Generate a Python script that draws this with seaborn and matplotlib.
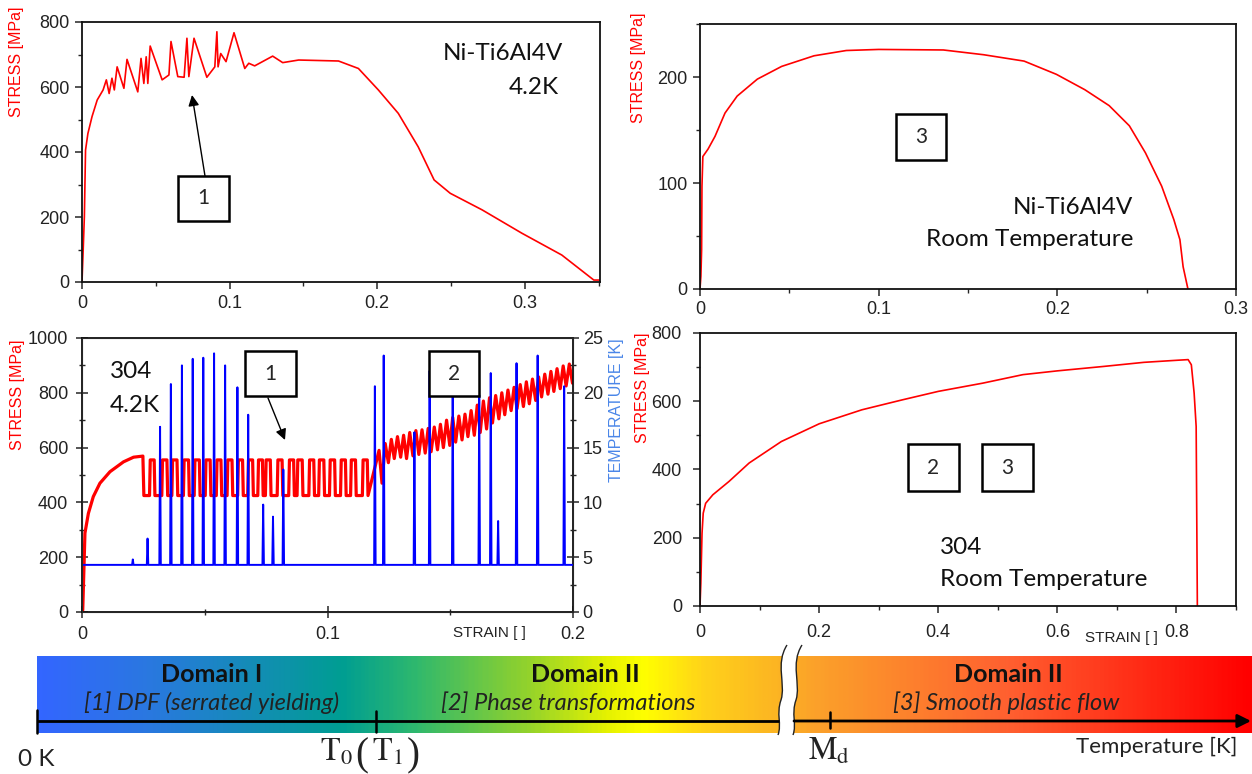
import matplotlib
matplotlib.use("Agg")
import numpy as np
import pandas as pd
import matplotlib.pyplot as plt
import seaborn as sns
from matplotlib.colors import LinearSegmentedColormap
from matplotlib.patches import Rectangle, PathPatch
from matplotlib.path import Path
from matplotlib.ticker import MultipleLocator, FuncFormatter

# ---------------------------------------------------------------- data
# Ni-Ti6Al4V at 4.2 K
ti_cryo_strain = [0, 0.0008, 0.0016, 0.0024, 0.004, 0.0068, 0.0103, 0.0143, 0.0165, 0.0184,
                  0.0203, 0.0219, 0.0238, 0.0284, 0.0305, 0.0378, 0.040, 0.0419, 0.0435,
                  0.0446, 0.0462, 0.0543, 0.0589, 0.0603, 0.0649, 0.0692, 0.0711, 0.0724,
                  0.0759, 0.0846, 0.090, 0.0914, 0.0922, 0.094, 0.0976, 0.103, 0.1103,
                  0.113, 0.117, 0.1292, 0.136, 0.1468, 0.1738, 0.1873, 0.2008, 0.2143,
                  0.2278, 0.2386, 0.2495, 0.2711, 0.2981, 0.3251, 0.3468, 0.3508]
ti_cryo_stress = [0, 98, 201, 406, 457, 509, 560, 591, 622, 580,
                  627, 591, 662, 596, 685, 585, 688, 611, 693,
                  611, 726, 622, 637, 740, 632, 630, 750, 632,
                  750, 630, 662, 770, 662, 703, 678, 767, 657,
                  673, 665, 695, 675, 683, 680, 657, 591, 519,
                  416, 314, 273, 222, 150, 83, 6, 6]

# Ni-Ti6Al4V at room temperature
ti_rt_strain = [0, 0.0005, 0.0009, 0.0011, 0.0016, 0.0045, 0.0084, 0.014, 0.0208, 0.0321,
                0.0457, 0.0638, 0.0819, 0.100, 0.1362, 0.1588, 0.1814, 0.1995, 0.2154,
                0.229, 0.2403, 0.2493, 0.2584, 0.2652, 0.2686, 0.2704, 0.2731]
ti_rt_stress = [0, 12, 37, 97, 125, 132, 144, 166, 182, 198,
                210, 220, 225, 226, 225.5, 221, 215, 202.5, 188,
                173, 154, 128.5, 97, 65.5, 46.6, 21, 0]

# 304 at room temperature
ss_rt_strain = [0, 0.0014, 0.0034, 0.0054, 0.0095, 0.0216, 0.0487, 0.0825, 0.1366, 0.2002,
                0.2719, 0.3395, 0.4003, 0.4747, 0.5423, 0.5998, 0.6776, 0.7452, 0.800,
                0.8196, 0.825, 0.8297, 0.8331, 0.8351]
ss_rt_stress = [0, 66, 213, 272, 301, 326, 365, 419, 482, 534,
                575, 604, 629, 653, 678, 689, 702, 714, 720,
                722, 707, 624, 526, 0]

# 304 at 4.2 K: initial hardening
ss_init_strain = [0, 0.0003, 0.0012, 0.0026, 0.0046, 0.0073, 0.0114, 0.0169, 0.021, 0.0248]
ss_init_stress = [0, 7, 288, 360, 421, 470, 512, 548, 565, 569]
# square-wave serrations (strain where each stress plateau starts / ends)
pulse_start = [0.0275, 0.0325, 0.0366, 0.0413, 0.0457, 0.0502, 0.0547, 0.0591, 0.0634,
               0.0675, 0.0716, 0.0747, 0.0795, 0.0842, 0.0876, 0.0924, 0.0964, 0.1008,
               0.1053, 0.1094, 0.1142]
pulse_end = [0.0294, 0.0346, 0.0387, 0.0434, 0.0478, 0.0522, 0.0566, 0.0611, 0.0654,
             0.0695, 0.0735, 0.0767, 0.0815, 0.0862, 0.0897, 0.0944, 0.0985, 0.1029,
             0.1073, 0.1114, 0.1162]
pulse_top = 555
pulse_bottom = 425
# saw-tooth serrations after the plateau
saw_strain = [0.1210, 0.1222, 0.1235, 0.1248, 0.1260, 0.1272, 0.1285, 0.1298, 0.1310, 0.1322,
              0.1335, 0.1348, 0.1360, 0.1372, 0.1385, 0.1398, 0.1410, 0.1422, 0.1435, 0.1448,
              0.1460, 0.1472, 0.1485, 0.1498, 0.1510, 0.1522, 0.1535, 0.1548, 0.1560, 0.1572,
              0.1585, 0.1598, 0.1610, 0.1622, 0.1635, 0.1648, 0.1660, 0.1672, 0.1685, 0.1698,
              0.1710, 0.1722, 0.1735, 0.1748, 0.1760, 0.1772, 0.1785, 0.1798, 0.1810, 0.1822,
              0.1835, 0.1848, 0.1860, 0.1872, 0.1885, 0.1898, 0.1910, 0.1922, 0.1935, 0.1948,
              0.1960, 0.1972, 0.1985, 0.1998]
saw_stress = [590, 470, 615, 545, 630, 560, 640, 565, 645, 560,
              655, 570, 662, 575, 665, 580, 670, 585, 675, 592,
              685, 600, 700, 608, 710, 620, 715, 628, 722, 640,
              735, 645, 755, 655, 770, 668, 782, 690, 790, 705,
              800, 720, 810, 735, 820, 742, 830, 750, 840, 760,
              850, 772, 858, 785, 868, 795, 878, 805, 888, 815,
              898, 825, 905, 835]

# specimen temperature at 4.2 K (spikes on a 4.3 K baseline)
temp_base = 4.3
spike_strain = [0.0207, 0.0267, 0.0318, 0.0362, 0.0407, 0.0451, 0.0494, 0.0538, 0.0583, 0.0633,
                0.0677, 0.0738, 0.0778, 0.0820, 0.1193, 0.1229, 0.1354, 0.1416, 0.1510,
                0.1618, 0.1665, 0.1695, 0.1770, 0.1856, 0.1964]
spike_temp = [4.8, 6.7, 16.9, 20.8, 22.5, 23.1, 23.2, 23.6, 22.5, 20.5,
              18.0, 9.8, 8.7, 13.0, 20.6, 23.4, 16.4, 22.0, 22.0,
              19.8, 21.8, 8.3, 22.7, 23.4, 20.6]

# ---------------------------------------------------------------- style
sns.set_style("ticks")
plt.rcParams['font.family'] = ['Liberation Sans', 'DejaVu Sans']
plt.rcParams['mathtext.fontset'] = 'stix'

W, H = 1252, 774
RED = '#ff0000'
BLUE = '#0000ff'
LBLUE = '#4a86e8'
CAL = 'Lato'
TICK_FS = 13

fig = plt.figure(figsize=(W / 100, H / 100), dpi=100)


def rect(l, t, r, b):
    return [l / W, 1 - b / H, (r - l) / W, (b - t) / H]


def style_axes(ax, xmaj, xmin, ymaj, ymin, direction='out', pad=4):
    ax.xaxis.set_major_locator(MultipleLocator(xmaj))
    ax.xaxis.set_minor_locator(MultipleLocator(xmin))
    ax.yaxis.set_major_locator(MultipleLocator(ymaj))
    ax.yaxis.set_minor_locator(MultipleLocator(ymin))
    ax.xaxis.set_major_formatter(FuncFormatter(lambda v, _: f"{v:g}"))
    ax.tick_params(which='major', direction=direction, length=5, width=1.1,
                   labelsize=TICK_FS, labelcolor='#222222', pad=pad)
    ax.tick_params(which='minor', direction=direction, length=3, width=1)
    for sp in ax.spines.values():
        sp.set_visible(True)
        sp.set_linewidth(1.3)
        sp.set_color('#111111')
    ax.set_xlabel('')
    ax.set_ylabel('')


def line(ax, x, y, color, lw):
    df = pd.DataFrame({'strain': x, 'value': y})
    sns.lineplot(data=df, x='strain', y='value', sort=False, estimator=None,
                 color=color, lw=lw, ax=ax)


# top left: Ni-Ti6Al4V 4.2 K
ax1 = fig.add_axes(rect(82, 22, 600, 282))
line(ax1, ti_cryo_strain, ti_cryo_stress, RED, 1.2)
ax1.set_xlim(0, 0.351)
ax1.set_ylim(0, 800)
style_axes(ax1, 0.1, 0.05, 200, 100)

# top right: Ni-Ti6Al4V room temperature
ax2 = fig.add_axes(rect(700, 24, 1236, 289))
line(ax2, ti_rt_strain, ti_rt_stress, RED, 1.2)
ax2.set_xlim(0, 0.3)
ax2.set_ylim(0, 250)
style_axes(ax2, 0.1, 0.05, 100, 50, pad=4)

# bottom left: 304 at 4.2 K with temperature
ax3 = fig.add_axes(rect(82, 338, 573, 612))
s_path = list(ss_init_strain) + [0.0252]
y_path = list(ss_init_stress) + [pulse_bottom]
for a, b in zip(pulse_start, pulse_end):
    s_path += [a, a + 0.0003, b, b + 0.0003]
    y_path += [pulse_bottom, pulse_top, pulse_top, pulse_bottom]
s_path += saw_strain
y_path += saw_stress
line(ax3, s_path, y_path, RED, 2.3)
ax3.set_xlim(0, 0.2)
ax3.set_ylim(0, 1000)
style_axes(ax3, 0.1, 0.05, 200, 100, direction='inout', pad=6)

ax3t = ax3.twinx()
t_s = [0.0]
t_y = [temp_base]
for s, T in zip(spike_strain, spike_temp):
    t_s += [s - 0.0003, s, s + 0.0003]
    t_y += [temp_base, T, temp_base]
t_s.append(0.2)
t_y.append(temp_base)
line(ax3t, t_s, t_y, BLUE, 1.4)
ax3t.set_ylim(0, 25)
ax3t.set_xlim(0, 0.2)
ax3t.yaxis.set_major_locator(MultipleLocator(5))
ax3t.yaxis.set_minor_locator(MultipleLocator(2.5))
ax3t.tick_params(which='major', direction='inout', length=8, width=1.1,
                 labelsize=TICK_FS, labelcolor='#222222', pad=3)
ax3t.tick_params(which='minor', direction='inout', length=5, width=1)
ax3t.set_ylabel('')
ax3.tick_params(which='major', length=8)
ax3.tick_params(which='minor', length=5)

# bottom right: 304 room temperature
ax4 = fig.add_axes(rect(700, 333, 1236, 606))
line(ax4, ss_rt_strain, ss_rt_stress, RED, 1.2)
ax4.set_xlim(0, 0.9)
ax4.set_ylim(0, 800)
style_axes(ax4, 0.2, 0.1, 200, 100, pad=8)

# ---------------------------------------------------------------- overlay (pixel coords)
ov = fig.add_axes([0, 0, 1, 1], zorder=10)
ov.axis('off')


def ftext(x, y, s, **kw):
    ov.text(x, y, s, **kw)


def box(x0, y0, x1, y1, label):
    ov.add_patch(Rectangle((x0, y0), x1 - x0, y1 - y0, facecolor='white',
                           edgecolor='black', lw=1.8, zorder=5))
    ov.text((x0 + x1) / 2, (y0 + y1) / 2, label, ha='center', va='center',
            family=CAL, fontsize=15, zorder=6)


def arrow(x0, y0, x1, y1):
    ov.annotate('', xy=(x1, y1), xytext=(x0, y0),
                arrowprops=dict(arrowstyle='-|>', color='black', lw=1.0,
                                mutation_scale=16, shrinkA=0, shrinkB=0))


# axis labels
lab = dict(rotation=90, ha='center', va='center', fontsize=11.5)
ftext(17, 62, 'STRESS [MPa]', color=RED, **lab)
ftext(639, 68, 'STRESS [MPa]', color=RED, **lab)
ftext(18, 395, 'STRESS [MPa]', color=RED, **lab)
ftext(617, 410, 'TEMPERATURE [K]', color=LBLUE, **lab)
ftext(643, 388, 'STRESS [MPa]', color=RED, **lab)
ftext(489, 633, 'STRAIN [ ]', ha='center', va='center', fontsize=11, color='#222222')
ftext(1121, 638, 'STRAIN [ ]', ha='center', va='center', fontsize=11, color='#222222')

# panel annotations
ann = dict(family=CAL, fontsize=17.5, color='#111111', va='center')
ftext(563, 53, 'Ni-Ti6Al4V', ha='right', **ann)
ftext(559, 87, '4.2K', ha='right', **ann)
ftext(1133, 207, 'Ni-Ti6Al4V', ha='right', **ann)
ftext(1133, 239, 'Room Temperature', ha='right', **ann)
ftext(110, 372, '304', ha='left', **ann)
ftext(110, 405, '4.2K', ha='left', **ann)
ftext(940, 548, '304', ha='left', **ann)
ftext(940, 580, 'Room Temperature', ha='left', **ann)

box(178, 176, 229, 221, '1')
box(245, 351, 296, 396, '1')
box(429, 351, 479, 396, '2')
box(896, 114, 946, 160, '3')
box(908, 444, 959, 491, '2')
box(982, 444, 1033, 491, '3')
arrow(205, 176, 192, 95)
arrow(268, 398, 285, 440)

# temperature bar
stops = [(0.0, '#3366ff'), (0.09, '#2a78e0'), (0.25, '#009e92'), (0.31, '#2eb86e'),
         (0.40, '#8fd12e'), (0.47, '#e6f200'), (0.50, '#ffff00'), (0.55, '#ffd21a'),
         (0.61, '#fcb423'), (0.64, '#fba22a'), (0.80, '#ff6030'), (1.0, '#ff0000')]
cmap = LinearSegmentedColormap.from_list('temp', stops)
grad = np.linspace(0, 1, 600).reshape(1, -1)
ov.imshow(grad, extent=[37, 1252, 733, 656], cmap=cmap, aspect='auto', zorder=1)

# broken-axis gap with two wavy lines
lw_pts = [(787, 645), (775, 664), (786, 684), (781, 700), (776, 714), (782, 724), (778, 735)]
rw_pts = [(p[0] + 15, p[1]) for p in lw_pts]
curve = [Path.MOVETO, Path.CURVE4, Path.CURVE4, Path.CURVE4, Path.CURVE4, Path.CURVE4, Path.CURVE4]
gap_verts = lw_pts + rw_pts[::-1] + [lw_pts[0]]
gap_codes = curve + [Path.LINETO, Path.CURVE4, Path.CURVE4, Path.CURVE4, Path.CURVE4,
                     Path.CURVE4, Path.CURVE4] + [Path.CLOSEPOLY]
ov.add_patch(PathPatch(Path(gap_verts, gap_codes), facecolor='white', edgecolor='none', zorder=2))
ov.add_patch(PathPatch(Path(lw_pts, curve), facecolor='none', edgecolor='#222222', lw=1.0, zorder=3))
ov.add_patch(PathPatch(Path(rw_pts, curve), facecolor='none', edgecolor='#222222', lw=1.0, zorder=3))

# temperature axis line
ov.plot([37, 779], [721, 721], color='black', lw=2.0, zorder=4, solid_capstyle='butt')
ov.annotate('', xy=(1251, 721), xytext=(794, 721),
            arrowprops=dict(arrowstyle='-|>', color='black', lw=2.0, mutation_scale=20,
                            shrinkA=0, shrinkB=0), zorder=4)
for x, y0, y1 in [(37, 710, 733), (376, 711, 732), (830, 712, 728)]:
    ov.plot([x, x], [y0, y1], color='black', lw=1.8, zorder=4)

dom = dict(family=CAL, fontsize=18, fontweight='bold', color='#111111', ha='center', va='center')
sub = dict(family=CAL, fontsize=17, style='italic', color='#222222', ha='center', va='center')
ftext(212, 675, 'Domain I', **dom)
ftext(212, 703, '[1] DPF (serrated yielding)', **sub)
ftext(585, 675, 'Domain II', **dom)
ftext(568, 703, '[2] Phase transformations', **sub)
ftext(1008, 675, 'Domain II', **dom)
ftext(1006, 703, '[3] Smooth plastic flow', **sub)
ftext(18, 760, '0 K', family=CAL, fontsize=17.5, color='#222222', ha='left', va='center')
ftext(1237, 747, 'Temperature [K]', family=CAL, fontsize=16, color='#222222', ha='right', va='center')

# T0 (T1) and Md marks, serif
ser = dict(color='#222222', ha='center', va='center')
ftext(336, 753, r'$\mathrm{T}_0$', fontsize=23, **ser)
ftext(362, 756, '(', family='Liberation Serif', fontsize=28, **ser)
ftext(387, 753, r'$\mathrm{T}_1$', fontsize=23, **ser)
ftext(413, 756, ')', family='Liberation Serif', fontsize=28, **ser)
ftext(829, 752, r'$\mathrm{M}_\mathrm{d}$', fontsize=23, **ser)

ov.set_xlim(0, W)
ov.set_ylim(H, 0)

fig.savefig('out.png', dpi=100)
